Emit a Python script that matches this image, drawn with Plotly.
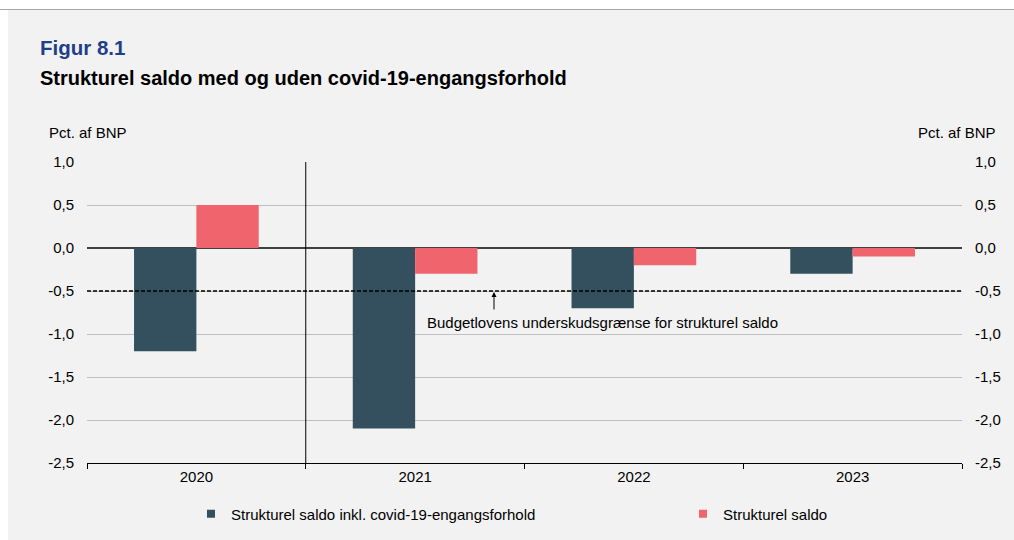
import plotly.graph_objects as go

# ---- data ----
years = ["2020", "2021", "2022", "2023"]
saldo_inkl_covid = [-1.2, -2.1, -0.7, -0.3]
strukturel_saldo = [0.5, -0.3, -0.2, -0.1]
budget_limit = -0.5
y_tickvals = [1.0, 0.5, 0.0, -0.5, -1.0, -1.5, -2.0, -2.5]
y_ticktext = ["1,0", "0,5", "0,0", "-0,5", "-1,0", "-1,5", "-2,0", "-2,5"]
series_names = ["Strukturel saldo inkl. covid-19-engangsforhold", "Strukturel saldo"]

# ---- style ----
W, H = 1014, 540
ML, MR, MT, MB = 87, 52, 162, 77
PW, PH = W - ML - MR, H - MT - MB
DARK = "#34505F"
PINK = "#F0646E"
BG = "#F2F2F2"
FONT = "Liberation Sans, Arial, sans-serif"
FS = 15


def px(xp):
    return (xp - ML) / PW


def py(yp):
    return (H - MB - yp) / PH


fig = go.Figure()
fig.add_trace(go.Bar(x=years, y=saldo_inkl_covid, marker=dict(color=DARK, line=dict(width=0)),
                     name=series_names[0], showlegend=False))
fig.add_trace(go.Bar(x=years, y=strukturel_saldo, marker=dict(color=PINK, line=dict(width=0)),
                     name=series_names[1], showlegend=False))
# legend proxies
fig.add_trace(go.Scatter(x=[None], y=[None], mode="markers", name=series_names[0], legend="legend",
                         marker=dict(symbol="square", size=8, color=DARK)))
fig.add_trace(go.Scatter(x=[None], y=[None], mode="markers", name=series_names[1], legend="legend2",
                         marker=dict(symbol="square", size=8, color=PINK)))

shapes = [
    # white strip at top + grey rule
    dict(type="rect", xref="paper", yref="paper", x0=px(0), x1=px(W), y0=py(0), y1=py(9),
         fillcolor="white", line=dict(width=0), layer="below"),
    dict(type="rect", xref="paper", yref="paper", x0=px(0), x1=px(8), y0=py(0), y1=py(H),
         fillcolor="white", line=dict(width=0), layer="below"),
    dict(type="line", xref="paper", yref="paper", x0=px(0), x1=px(W), y0=py(9.5), y1=py(9.5),
         line=dict(color="#A6A6A6", width=1)),
    # vertical separator between 2020 and 2021
    dict(type="line", xref="x", yref="paper", x0=0.5, x1=0.5, y0=0, y1=1,
         line=dict(color="black", width=1)),
    # budget limit dashed line
    dict(type="line", xref="paper", yref="y", x0=0, x1=1, y0=budget_limit, y1=budget_limit,
         line=dict(color="black", width=1.5, dash="4px,2px")),
]

annotations = [
    dict(text="<b>Figur 8.1</b>", xref="paper", yref="paper", x=px(38), y=py(48),
         xanchor="left", yanchor="middle", showarrow=False,
         font=dict(family=FONT, size=20.5, color="#1F3F8A")),
    dict(text="<b>Strukturel saldo med og uden covid-19-engangsforhold</b>", xref="paper", yref="paper",
         x=px(38), y=py(78), xanchor="left", yanchor="middle", showarrow=False,
         font=dict(family=FONT, size=20, color="black")),
    dict(text="Pct. af BNP", xref="paper", yref="paper", x=px(47), y=py(132),
         xanchor="left", yanchor="middle", showarrow=False, font=dict(family=FONT, size=FS, color="black")),
    dict(text="Pct. af BNP", xref="paper", yref="paper", x=px(998), y=py(132),
         xanchor="right", yanchor="middle", showarrow=False, font=dict(family=FONT, size=FS, color="black")),
    # arrow
    dict(text="", xref="paper", yref="y", x=px(494), y=budget_limit, ax=0, ay=20,
         showarrow=True, arrowhead=2, arrowsize=1, arrowwidth=1, arrowcolor="black", standoff=1),
    dict(text="Budgetlovens underskudsgrænse for strukturel saldo", xref="paper", yref="paper",
         x=px(602), y=py(322), xanchor="center", yanchor="middle", showarrow=False,
         font=dict(family=FONT, size=FS, color="black")),
]

legend_common = dict(orientation="h", xanchor="left", yanchor="middle", bgcolor="rgba(0,0,0,0)",
                     font=dict(family=FONT, size=FS, color="black"), itemclick=False,
                     itemdoubleclick=False)

fig.update_layout(
    width=W, height=H,
    margin=dict(l=ML, r=MR, t=MT, b=MB, autoexpand=False),
    paper_bgcolor=BG, plot_bgcolor=BG,
    font=dict(family=FONT, size=FS, color="black"),
    barmode="group", bargap=0.43, bargroupgap=0,
    shapes=shapes, annotations=annotations,
    legend=dict(x=px(191), y=py(514), **legend_common),
    legend2=dict(x=px(683), y=py(514), **legend_common),
    xaxis=dict(type="category", tickson="boundaries", ticks="outside", ticklen=5, tickcolor="black",
               showline=True, linecolor="black", linewidth=1, showgrid=False,
               tickfont=dict(family=FONT, size=FS, color="black"), range=[-0.5, 3.5], fixedrange=True),
    yaxis=dict(range=[-2.5, 1.0], tickvals=y_tickvals, ticktext=y_ticktext, showgrid=True,
               gridcolor="#BFBFBF", gridwidth=1, zeroline=True, zerolinecolor="#404040", zerolinewidth=1.5,
               ticks="", ticklabelstandoff=12, showline=False,
               tickfont=dict(family=FONT, size=FS, color="black")),
    yaxis2=dict(range=[-2.5, 1.0], tickvals=y_tickvals, ticktext=y_ticktext, overlaying="y", side="right",
                showgrid=False, zeroline=False, ticks="", ticklabelstandoff=12, showline=False,
                tickfont=dict(family=FONT, size=FS, color="black")),
)
# invisible trace to anchor the right axis
fig.add_trace(go.Scatter(x=[years[0]], y=[None], yaxis="y2", showlegend=False, hoverinfo="skip"))

fig.write_html("out.html", config={"displayModeBar": False},
               post_script="document.body.style.margin='0';document.body.style.overflow='hidden';")
